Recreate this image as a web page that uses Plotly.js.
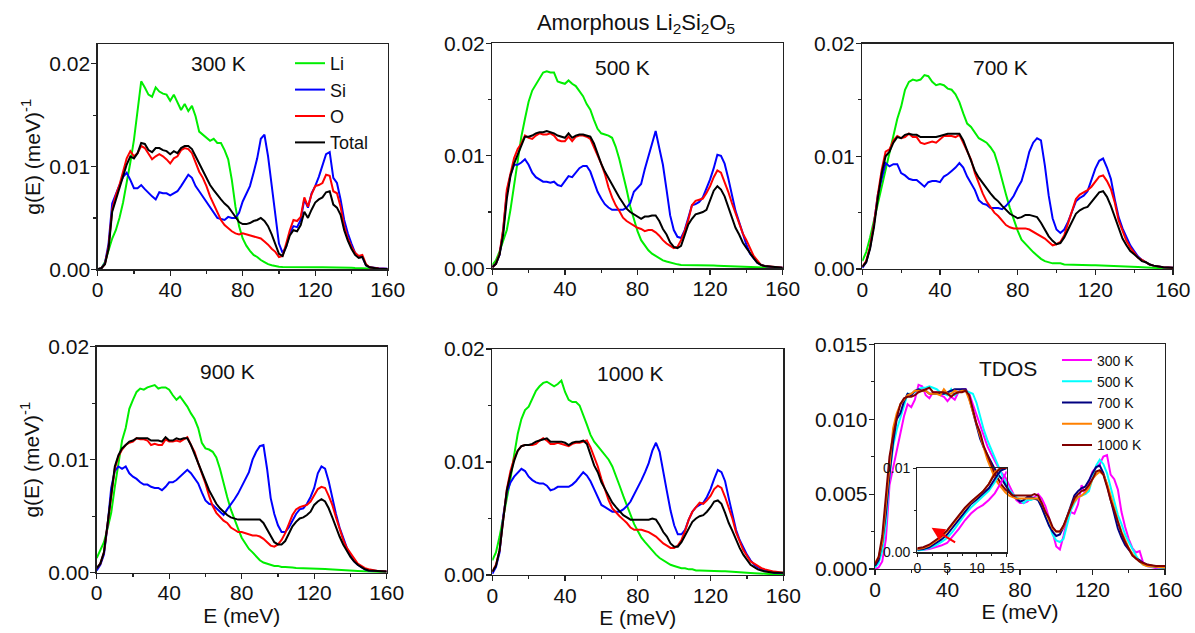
<!DOCTYPE html>
<html><head><meta charset="utf-8">
<script src="https://cdn.plot.ly/plotly-3.0.1.min.js"></script>
<style>html,body{margin:0;padding:0;background:#fff}#chart{width:1195px;height:633px}</style>
</head><body><div id="chart"></div>
<script>
// Energy grid (meV)
const E = [0,2,4,6,8,10,12,14,16,18,20,22,24,26,28,30,32,34,36,38,40,42,44,46,48,50,52,54,56,58,60,62,64,66,68,70,72,74,76,78,80,82,84,86,88,90,92,94,96,98,100,102,104,106,108,110,112,114,116,118,120,122,124,126,128,130,132,134,136,138,140,142,144,146,148,150,155,160];

// 300 K
const li300 = [0,0.0001,0.0007,0.0019,0.003,0.0038,0.005,0.0065,0.0083,0.0104, 0.0126,0.0153,0.0183,0.0177,0.017,0.0168,0.0177,0.0173,0.0171,0.017, 0.0164,0.017,0.0162,0.0155,0.0161,0.0154,0.0159,0.0149,0.0134,0.0131, 0.0128,0.0125,0.0127,0.0123,0.0123,0.0116,0.0107,0.0087,0.0061,0.0042, 0.003,0.0023,0.0018,0.0014,0.0012,0.0009,0.0007,0.0005,0.0004,0.0003, 0.00025,0.00023,0.00022,0.00021,0.0002,0.0002,0.0002,0.0002,0.0002,0.0002, 0.0002,0.0002,0.0002,0.0002,0.00019,0.00018,0.00018,0.00017,0.00016,0.00015, 0.00014,0.00012,0.0001,0.00008,0.00006,0.00004, 0.00002,0.00001];
const si300 = [0,0.0001,0.0006,0.0025,0.0064,0.0074,0.0082,0.009,0.0094,0.0087, 0.0079,0.0079,0.0082,0.0078,0.0074,0.0071,0.0068,0.0075,0.0074,0.0074, 0.0072,0.0074,0.0076,0.0081,0.0087,0.0092,0.0089,0.0081,0.0076,0.0071, 0.0066,0.006,0.0055,0.005,0.0049,0.0048,0.0051,0.005,0.005,0.0055, 0.0066,0.0074,0.0081,0.0094,0.0108,0.0127,0.0131,0.011,0.0081,0.0051, 0.0025,0.0016,0.0022,0.0035,0.0042,0.0041,0.0048,0.0068,0.006,0.0074, 0.0081,0.009,0.01,0.0112,0.0114,0.0089,0.0084,0.0068,0.0048,0.0035, 0.0025,0.0016,0.0012,0.0012,0.0004,0.0002, 0.0001,0.00005];
const o300 = [0,0.0001,0.0005,0.0022,0.0058,0.0072,0.0082,0.0095,0.0108,0.0115, 0.011,0.0113,0.012,0.0118,0.0112,0.0107,0.011,0.0112,0.011,0.0107, 0.0103,0.0108,0.011,0.0116,0.0118,0.0117,0.0113,0.0103,0.0095,0.0089, 0.0081,0.0071,0.0063,0.0055,0.0048,0.0043,0.004,0.0037,0.0035,0.0034, 0.0035,0.0034,0.0033,0.0032,0.0031,0.003,0.0027,0.0024,0.002,0.0017, 0.0012,0.0013,0.0025,0.0038,0.0048,0.0047,0.0051,0.007,0.0061,0.0073, 0.0081,0.0082,0.0084,0.0092,0.0091,0.0076,0.0074,0.0061,0.0042,0.003, 0.0022,0.0016,0.0013,0.0014,0.0005,0.0002, 0.00008,0.00003];
const tot300 = [0,0.0001,0.0005,0.002,0.0056,0.0068,0.0078,0.009,0.0102,0.011, 0.0108,0.0113,0.0123,0.0122,0.0116,0.0114,0.0118,0.0118,0.0116,0.0115, 0.0112,0.0115,0.0113,0.0118,0.012,0.012,0.0117,0.011,0.0103,0.0096, 0.0088,0.0082,0.0077,0.0072,0.0068,0.0064,0.0061,0.0056,0.0051,0.0046, 0.0044,0.0044,0.0045,0.0047,0.0048,0.005,0.0047,0.0042,0.0034,0.0025, 0.0015,0.0013,0.0022,0.0033,0.0038,0.0037,0.0043,0.0056,0.005,0.0058, 0.0065,0.0068,0.007,0.0075,0.0076,0.0063,0.006,0.0053,0.0038,0.0028, 0.002,0.0014,0.0011,0.0012,0.0004,0.0002, 0.00006,0.00003];

// 500 K
const li500 = [0.0003,0.0007,0.0015,0.0024,0.0034,0.0052,0.0075,0.0097,0.0117,0.0133, 0.0148,0.0158,0.0163,0.0169,0.0174,0.0175,0.0174,0.0174,0.0166,0.0165, 0.0164,0.0167,0.0164,0.0162,0.0158,0.0153,0.0146,0.0141,0.0132,0.0124, 0.012,0.0119,0.0118,0.0116,0.0108,0.0097,0.0084,0.007,0.0055,0.0043, 0.0033,0.0025,0.002,0.0016,0.0013,0.0011,0.0009,0.0007,0.0006,0.0005, 0.0004,0.00035,0.0003,0.0003,0.0003,0.00028,0.00027,0.00026,0.00026,0.00025, 0.00025,0.00024,0.00023,0.00022,0.00021,0.0002,0.00019,0.00018,0.00016,0.00014, 0.00012,0.0001,0.00009,0.00008,0.00006,0.00005, 0.00002,0.00001];
const si500 = [0.0001,0.0004,0.0012,0.0034,0.0067,0.0083,0.0092,0.0092,0.0094,0.0097, 0.0092,0.0085,0.0081,0.0079,0.0077,0.0077,0.0076,0.0077,0.0074,0.0073, 0.0078,0.0082,0.0081,0.0085,0.0089,0.0091,0.0091,0.0086,0.0077,0.0068, 0.0062,0.0057,0.0054,0.0052,0.0052,0.0052,0.0052,0.0054,0.0058,0.0068, 0.0072,0.0075,0.0088,0.01,0.0112,0.0122,0.0107,0.0092,0.007,0.0047, 0.0034,0.0028,0.0027,0.0034,0.0045,0.0056,0.0057,0.0059,0.0063,0.0071, 0.0079,0.0089,0.0101,0.01,0.0093,0.008,0.0065,0.0051,0.0041,0.003, 0.0021,0.0013,0.0009,0.0005,0.0003,0.0002, 0.0001,0.00005];
const o500 = [0.0001,0.0004,0.0013,0.0035,0.007,0.0085,0.0098,0.0106,0.0111,0.0118, 0.0116,0.0115,0.0118,0.012,0.0119,0.0119,0.012,0.0118,0.0114,0.0113, 0.0113,0.0117,0.0113,0.0117,0.0118,0.0118,0.0117,0.0115,0.0108,0.01, 0.0093,0.0084,0.0072,0.0063,0.0056,0.0051,0.0045,0.0042,0.004,0.0038, 0.0036,0.0035,0.0033,0.0034,0.0034,0.0032,0.0029,0.0025,0.0022,0.002, 0.0018,0.0019,0.0025,0.0033,0.0043,0.0056,0.006,0.0061,0.0062,0.0067, 0.0073,0.0081,0.0087,0.0085,0.0077,0.0068,0.0058,0.0049,0.004,0.0031, 0.0025,0.0018,0.0011,0.0007,0.0003,0.0002, 0.0001,0.00005];
const tot500 = [0.0001,0.0004,0.0012,0.003,0.0062,0.0082,0.0093,0.0101,0.0108,0.0117, 0.0117,0.0118,0.012,0.0121,0.0121,0.0122,0.0121,0.012,0.0118,0.0117, 0.0116,0.012,0.0116,0.0118,0.0119,0.0119,0.0118,0.0117,0.0111,0.0101, 0.0093,0.0086,0.008,0.0074,0.0068,0.0063,0.0058,0.0053,0.005,0.0048, 0.0046,0.0044,0.0046,0.0046,0.0047,0.0047,0.0042,0.0035,0.003,0.0023, 0.0019,0.0018,0.002,0.0029,0.0039,0.0044,0.0048,0.0049,0.005,0.0052, 0.006,0.0069,0.0073,0.007,0.0064,0.0054,0.0044,0.0036,0.003,0.0023, 0.0018,0.0013,0.0009,0.0005,0.0003,0.0002, 0.0001,0.00005];

// 700 K
const li700 = [0.0007,0.0015,0.0028,0.0043,0.0057,0.0072,0.0087,0.0104,0.0119,0.0133, 0.0144,0.0159,0.0166,0.0168,0.0167,0.0168,0.0172,0.0171,0.0166,0.0163, 0.0164,0.0163,0.016,0.0159,0.0155,0.0148,0.0138,0.0129,0.0126,0.0121, 0.0116,0.0114,0.0112,0.0108,0.0103,0.0092,0.0078,0.0066,0.0054,0.0043, 0.0034,0.0026,0.0022,0.0018,0.0015,0.0012,0.0009,0.0007,0.0006,0.0005, 0.0005,0.0005,0.0004,0.0004,0.0004,0.0004,0.00038,0.00036,0.00035,0.00034, 0.00033,0.00032,0.00031,0.0003,0.0003,0.0003,0.00028,0.00026,0.00024,0.00022, 0.0002,0.00018,0.00016,0.00014,0.00012,0.0001, 0.00005,0.00002];
const si700 = [0.0001,0.0006,0.0019,0.004,0.0066,0.0079,0.0094,0.0091,0.0093,0.0093, 0.0085,0.0083,0.008,0.0079,0.0079,0.0076,0.0073,0.0077,0.0078,0.0078, 0.0077,0.0082,0.0084,0.0087,0.009,0.0094,0.009,0.0082,0.0076,0.007, 0.0061,0.0058,0.0057,0.0054,0.0054,0.0054,0.0053,0.0056,0.006,0.0065, 0.0072,0.0078,0.009,0.0104,0.0112,0.0116,0.0114,0.0092,0.0065,0.0045, 0.0035,0.0032,0.0035,0.0042,0.0051,0.006,0.0063,0.0065,0.0069,0.0079, 0.0089,0.0096,0.0098,0.009,0.008,0.0062,0.0046,0.0036,0.0029,0.0021, 0.0016,0.0011,0.0008,0.0006,0.0004,0.0003, 0.00015,0.0001];
const o700 = [0.0002,0.0007,0.002,0.004,0.0066,0.0088,0.0104,0.0106,0.0114,0.0118, 0.0116,0.0117,0.012,0.0117,0.0117,0.0112,0.0111,0.0112,0.0113,0.0112, 0.0115,0.0118,0.0118,0.0118,0.0117,0.0119,0.0112,0.0104,0.0097,0.0085, 0.0075,0.0067,0.006,0.0055,0.005,0.0047,0.0043,0.0039,0.0037,0.0036, 0.0036,0.0036,0.0036,0.0035,0.0033,0.0031,0.0029,0.0027,0.0024,0.0021, 0.0022,0.0024,0.003,0.0041,0.0051,0.0062,0.0066,0.0068,0.007,0.0073, 0.0078,0.0082,0.0083,0.0078,0.0071,0.0059,0.0043,0.0033,0.0025,0.0019, 0.0014,0.001,0.0008,0.0006,0.0004,0.0003, 0.00015,0.0001];
const tot700 = [0.0002,0.0006,0.0018,0.0037,0.0063,0.0085,0.01,0.0104,0.0112,0.0117, 0.0116,0.0119,0.012,0.0119,0.0119,0.0117,0.0117,0.0117,0.0117,0.0117, 0.0118,0.0119,0.012,0.012,0.012,0.012,0.0114,0.0105,0.0095,0.0087, 0.0081,0.0076,0.0071,0.0067,0.0063,0.006,0.0056,0.0052,0.0049,0.0047, 0.0045,0.0046,0.0048,0.0048,0.0047,0.0046,0.0041,0.0035,0.0029,0.0025, 0.0022,0.0023,0.0028,0.0035,0.0042,0.0049,0.0052,0.0054,0.0055,0.0059, 0.0064,0.0068,0.0069,0.0064,0.0056,0.0046,0.0035,0.0027,0.0021,0.0016, 0.0013,0.001,0.0007,0.0006,0.0004,0.0003, 0.00015,0.0001];

// 900 K
const li900 = [0.0013,0.002,0.0027,0.0039,0.0053,0.0076,0.0098,0.0117,0.0128,0.0145, 0.0153,0.016,0.0163,0.0162,0.0164,0.0165,0.0166,0.0163,0.0164,0.0164, 0.0162,0.0157,0.0153,0.0156,0.0152,0.0147,0.0141,0.0136,0.0128,0.0115, 0.011,0.0109,0.0107,0.0102,0.0092,0.0079,0.0067,0.0056,0.0047,0.0039, 0.0031,0.0026,0.0021,0.0018,0.0014,0.0011,0.0009,0.0008,0.0007,0.0006, 0.0006,0.0005,0.0005,0.0005,0.00045,0.00042,0.0004,0.0004,0.00038,0.00036, 0.00035,0.00034,0.00033,0.00032,0.00031,0.0003,0.00028,0.00026,0.00024,0.00022, 0.0002,0.00018,0.00016,0.00014,0.00012,0.0001, 0.00005,0.00002];
const si900 = [0.0002,0.0007,0.0016,0.0042,0.0075,0.009,0.0094,0.0092,0.0094,0.0088, 0.0085,0.0083,0.008,0.0078,0.0078,0.0076,0.0075,0.0075,0.0073,0.0076, 0.008,0.008,0.0082,0.0085,0.0088,0.0091,0.0088,0.0083,0.0079,0.0071, 0.0064,0.0061,0.006,0.0057,0.0054,0.0051,0.0056,0.006,0.0065,0.007, 0.0076,0.0082,0.0089,0.01,0.0107,0.0112,0.0113,0.0092,0.0066,0.0052, 0.0042,0.0036,0.0036,0.004,0.0046,0.0052,0.0056,0.0057,0.0061,0.0067, 0.0075,0.0088,0.0094,0.0092,0.0081,0.0066,0.0052,0.004,0.003,0.0022, 0.0015,0.001,0.0007,0.0005,0.0003,0.0002, 0.00015,0.0001];
const o900 = [0.0004,0.0008,0.0018,0.0042,0.0068,0.0092,0.0103,0.0109,0.0113,0.0115, 0.0116,0.0119,0.0118,0.0118,0.0117,0.0113,0.0114,0.0113,0.0113,0.0118, 0.0116,0.0116,0.0117,0.0116,0.0118,0.012,0.0113,0.0107,0.0097,0.0088, 0.0079,0.0068,0.0059,0.0053,0.0049,0.0046,0.0044,0.004,0.0038,0.0036, 0.0036,0.0035,0.0034,0.0033,0.0033,0.0032,0.003,0.0027,0.0024,0.0023, 0.0025,0.0029,0.0035,0.0043,0.0051,0.0056,0.0058,0.0059,0.006,0.0063, 0.0068,0.0074,0.0076,0.0075,0.0068,0.006,0.0049,0.0038,0.0029,0.0022, 0.0017,0.0012,0.0008,0.0006,0.0004,0.0003, 0.00015,0.0001];
const tot900 = [0.0004,0.0008,0.0018,0.0042,0.007,0.0094,0.0104,0.011,0.0113,0.0116, 0.0117,0.0119,0.0119,0.0119,0.0119,0.0117,0.0117,0.0117,0.0116,0.012, 0.0117,0.0117,0.0119,0.0118,0.0119,0.0119,0.0113,0.0105,0.0096,0.0088, 0.008,0.0073,0.0067,0.0061,0.0057,0.0054,0.0051,0.0049,0.0048,0.0047, 0.0047,0.0047,0.0047,0.0047,0.0047,0.0047,0.0044,0.0038,0.0032,0.0027, 0.0025,0.0025,0.0028,0.0034,0.0041,0.0045,0.0048,0.0049,0.0051,0.0054, 0.006,0.0063,0.0065,0.0063,0.0057,0.0049,0.004,0.0032,0.0025,0.0019, 0.0014,0.001,0.0007,0.0005,0.0003,0.0002, 0.00015,0.0001];

// 1000 K
const li1000 = [0.0013,0.002,0.0034,0.005,0.0067,0.0085,0.0106,0.0125,0.0138,0.0146, 0.0149,0.0156,0.0163,0.0167,0.017,0.0171,0.0169,0.0167,0.0169,0.0172, 0.0162,0.0155,0.0153,0.0153,0.015,0.0142,0.0133,0.0124,0.0118,0.0114, 0.011,0.0106,0.0102,0.0096,0.0088,0.0079,0.007,0.0062,0.0054,0.0045, 0.0039,0.0033,0.0029,0.0025,0.0021,0.0018,0.0015,0.0013,0.0011,0.0009, 0.0008,0.0007,0.0006,0.0006,0.0005,0.0005,0.0004,0.0004,0.0004,0.0004, 0.00038,0.00036,0.00035,0.00034,0.00033,0.0003,0.00028,0.00026,0.00024,0.00022, 0.0002,0.00018,0.00016,0.00014,0.00012,0.0001, 0.00005,0.00002];
const si1000 = [0.0001,0.0007,0.002,0.0052,0.0073,0.0082,0.0087,0.0091,0.0094,0.0092, 0.0087,0.0084,0.0082,0.0081,0.0081,0.0079,0.0075,0.0076,0.0078,0.0078, 0.0078,0.0078,0.008,0.0083,0.0087,0.0091,0.0088,0.0083,0.0076,0.0069, 0.0062,0.006,0.0058,0.0056,0.0056,0.0056,0.0058,0.0061,0.0065,0.0071, 0.0077,0.0084,0.0091,0.0099,0.011,0.0117,0.0109,0.0093,0.0074,0.0057, 0.0044,0.0036,0.0036,0.004,0.0049,0.0056,0.006,0.0062,0.0064,0.0069, 0.0076,0.0085,0.0093,0.0091,0.0083,0.0068,0.0053,0.004,0.0031,0.0024, 0.0018,0.0013,0.0009,0.0007,0.0005,0.0004, 0.0002,0.00015];
const o1000 = [0.0003,0.0009,0.0022,0.0048,0.0076,0.0092,0.0103,0.011,0.0114,0.0115, 0.0115,0.0115,0.0116,0.0119,0.0121,0.0119,0.0116,0.0116,0.0117,0.0116, 0.0115,0.0114,0.0116,0.0117,0.0117,0.0118,0.0119,0.0113,0.0105,0.0096, 0.0085,0.0075,0.0066,0.0059,0.0055,0.0052,0.0049,0.0046,0.0042,0.004, 0.004,0.004,0.0039,0.0038,0.0036,0.0034,0.0031,0.0028,0.0026,0.0024, 0.0024,0.0026,0.0031,0.0039,0.0049,0.0056,0.006,0.0064,0.0063,0.0066, 0.007,0.0076,0.0079,0.0077,0.0069,0.006,0.005,0.0038,0.003,0.0022, 0.0017,0.0012,0.001,0.0008,0.0006,0.0005, 0.0003,0.0002];
const tot1000 = [0.0003,0.0008,0.0022,0.0048,0.0075,0.0089,0.0101,0.011,0.0114,0.0115, 0.0115,0.0116,0.0118,0.0119,0.012,0.0121,0.0118,0.0118,0.0118,0.0118, 0.0117,0.0115,0.0117,0.0118,0.0118,0.0119,0.0116,0.0107,0.0097,0.0091, 0.0082,0.0076,0.007,0.0064,0.006,0.0056,0.0053,0.0051,0.0049,0.0049, 0.0049,0.0049,0.0049,0.0049,0.005,0.0049,0.0044,0.0038,0.0034,0.0028, 0.0025,0.0025,0.0029,0.0035,0.0041,0.0047,0.005,0.0052,0.0053,0.0056, 0.006,0.0065,0.0066,0.0063,0.0055,0.0046,0.0039,0.0031,0.0024,0.0018, 0.0013,0.0009,0.0007,0.0005,0.0004,0.0003, 0.0002,0.0002];

// Inset (low-energy region)
const Ein = [0,1,2,3,4,5,6,7,8,9,10,11,12,13,14,15];
const in300 = [0.0003,0.0003,0.0004,0.0006,0.0008,0.0011,0.0019,0.0028,0.0038,0.0046,0.0052,0.0056,0.0062,0.007,0.0082,0.0096];
const in500 = [0.0002,0.0003,0.0005,0.0008,0.0012,0.0017,0.0025,0.0035,0.0045,0.0053,0.006,0.0066,0.0073,0.0083,0.0098,0.01];
const in700 = [0.0003,0.0004,0.0006,0.001,0.0015,0.0021,0.003,0.004,0.0049,0.0057,0.0063,0.0069,0.0076,0.0087,0.0097,0.01];
const in900 = [0.0004,0.0005,0.0008,0.0013,0.0018,0.0025,0.0034,0.0043,0.0052,0.0059,0.0065,0.0072,0.0081,0.0095,0.01,0.01];
const in1000 = [0.00047,0.0006,0.0009,0.0014,0.0019,0.0026,0.0035,0.0044,0.0053,0.006,0.0066,0.0072,0.0081,0.0093,0.01,0.01];

const elements = ['Li','Si','O','Total'];
const elemColors = ['#00ee00','#0000ff','#ff0000','#000000'];
const temps = ['300 K','500 K','700 K','900 K','1000 K'];
const tempColors = ['#ff00ff','#00ffff','#000080','#ff8000','#800000'];
const xTicks = [0,40,80,120,160];

const W = 1195, H = 633;
const FONT = 'Liberation Sans, Arial, Helvetica, sans-serif';
const xd = (a,b) => [a/W, b/W];
const yd = (t,b) => [1-b/H, 1-t/H];

const panelData = [
  [li300,si300,o300,tot300],
  [li500,si500,o500,tot500],
  [li700,si700,o700,tot700],
  [li900,si900,o900,tot900],
  [li1000,si1000,o1000,tot1000]
];
const tdos = [tot300,tot500,tot700,tot900,tot1000];
const insets = [in300,in500,in700,in900,in1000];

const boxes = [
  {x:[97.7,387.7], y:[44.3,269.3], yr:[0,0.0219]},
  {x:[492.3,782.7], y:[43.3,268.3], yr:[0,0.02]},
  {x:[862.3,1173], y:[43.5,269], yr:[0,0.02]},
  {x:[96.7,386.7], y:[346.7,572.7], yr:[0,0.02]},
  {x:[492.3,783.3], y:[349,575], yr:[0,0.02]},
  {x:[875,1165], y:[344.3,569], yr:[0,0.015]}
];

const traces = [];
panelData.forEach((set, p) => {
  const ax = p === 0 ? '' : String(p+1);
  set.forEach((arr, k) => {
    traces.push({
      x: E, y: arr, type:'scatter', mode:'lines',
      xaxis:'x'+ax, yaxis:'y'+ax,
      name: elements[k], showlegend: p === 0, legend:'legend',
      line:{color: elemColors[k], width:2},
      hoverinfo:'skip'
    });
  });
});
tdos.forEach((arr, k) => {
  traces.push({
    x: E, y: arr, type:'scatter', mode:'lines', xaxis:'x6', yaxis:'y6',
    name: temps[k], showlegend:true, legend:'legend2',
    line:{color: tempColors[k], width:2}, hoverinfo:'skip'
  });
});
insets.forEach((arr, k) => {
  traces.push({
    x: Ein, y: arr, type:'scatter', mode:'lines', xaxis:'x7', yaxis:'y7',
    showlegend:false, line:{color: tempColors[k], width:2}, hoverinfo:'skip'
  });
});

const lineCol = '#222';
function xaxis(box, anchor, withTitle) {
  const a = {
    domain: xd(box.x[0], box.x[1]), anchor: anchor, range:[0,160],
    tickmode:'array', tickvals: xTicks, ticks:'outside', ticklen:5, tickwidth:1.2, tickcolor:lineCol,
    ticklabelstandoff:-4,
    minor:{tickmode:'array', tickvals:[20,60,100,140], ticks:'outside', ticklen:3, tickwidth:1.2, tickcolor:lineCol},
    showline:true, linecolor:lineCol, linewidth:1.3, mirror:true,
    showgrid:false, zeroline:false, fixedrange:true,
    tickfont:{family:FONT, size:21, color:'#111'}
  };
  if (withTitle) a.title = {text:'E (meV)', font:{family:FONT, size:21, color:'#111'}, standoff:2};
  return a;
}
function yaxis(box, anchor, withTitle, tdosAxis) {
  const a = {
    domain: yd(box.y[0], box.y[1]), anchor: anchor, range: box.yr,
    tickmode:'array',
    tickvals: tdosAxis ? [0,0.005,0.01,0.015] : [0,0.01,0.02],
    tickformat: tdosAxis ? '.3f' : '.2f',
    ticks:'outside', ticklen:5, tickwidth:1.2, tickcolor:lineCol,
    ticklabelstandoff:-3,
    minor:{tickmode:'array', tickvals: tdosAxis ? [0.0025,0.0075,0.0125] : [0.005,0.015], ticks:'outside', ticklen:3, tickwidth:1.2, tickcolor:lineCol},
    showline:true, linecolor:lineCol, linewidth:1.3, mirror:true,
    showgrid:false, zeroline:false, fixedrange:true,
    tickfont:{family:FONT, size:21, color:'#111'}
  };
  if (withTitle) a.title = {text:'g(E) (meV)<sup>-1</sup>', font:{family:FONT, size:21, color:'#111'}, standoff:3};
  return a;
}

const layout = {
  width: W, height: H,
  margin:{l:0,r:0,t:0,b:0},
  paper_bgcolor:'#ffffff', plot_bgcolor:'rgba(0,0,0,0)',
  font:{family:FONT, color:'#111'},
  title:{text:'Amorphous Li<sub>2</sub>Si<sub>2</sub>O<sub>5</sub>', font:{family:FONT, size:22, color:'#111'},
         x:636/W, xanchor:'center', y:1-22/H, yanchor:'middle'},
  xaxis: xaxis(boxes[0],'y',false),  yaxis: yaxis(boxes[0],'x',true,false),
  xaxis2: xaxis(boxes[1],'y2',false), yaxis2: yaxis(boxes[1],'x2',false,false),
  xaxis3: xaxis(boxes[2],'y3',false), yaxis3: yaxis(boxes[2],'x3',false,false),
  xaxis4: xaxis(boxes[3],'y4',true),  yaxis4: yaxis(boxes[3],'x4',true,false),
  xaxis5: xaxis(boxes[4],'y5',true),  yaxis5: yaxis(boxes[4],'x5',false,false),
  xaxis6: xaxis(boxes[5],'y6',true),  yaxis6: yaxis(boxes[5],'x6',false,true),
  xaxis7: {
    domain: xd(917.3,1006.7), anchor:'y7', range:[0,15], tickmode:'array', tickvals:[0,5,10,15],
    ticks:'outside', ticklen:3, tickcolor:lineCol,
    minor:{tickmode:'array', tickvals:[2.5,7.5,12.5], ticks:'outside', ticklen:2, tickcolor:lineCol},
    showline:true, linecolor:lineCol, linewidth:1.2, mirror:true, showgrid:false, zeroline:false, fixedrange:true,
    tickfont:{family:FONT, size:14, color:'#111'}
  },
  yaxis7: {
    domain: yd(468,552.3), anchor:'x7', range:[0,0.01], tickmode:'array', tickvals:[0,0.01], tickformat:'.2f',
    ticks:'outside', ticklen:3, tickcolor:lineCol,
    minor:{tickmode:'array', tickvals:[0.005], ticks:'outside', ticklen:2, tickcolor:lineCol},
    showline:true, linecolor:lineCol, linewidth:1.2, mirror:true, showgrid:false, zeroline:false, fixedrange:true,
    tickfont:{family:FONT, size:14, color:'#111'}
  },
  legend:{x:290/W, xanchor:'left', y:1-45/H, yanchor:'top', bgcolor:'rgba(0,0,0,0)', borderwidth:0,
          font:{family:FONT, size:18, color:'#111'}, tracegroupgap:0},
  legend2:{x:1057/W, xanchor:'left', y:1-344.5/H, yanchor:'top', bgcolor:'rgba(0,0,0,0)', borderwidth:0,
          font:{family:FONT, size:14, color:'#111'}, tracegroupgap:0},
  annotations:[
    {text:'300 K', x:218/W, y:1-63/H},
    {text:'500 K', x:622.5/W, y:1-68/H},
    {text:'700 K', x:1000/W, y:1-68/H},
    {text:'900 K', x:227.5/W, y:1-371.7/H},
    {text:'1000 K', x:630/W, y:1-373.3/H},
    {text:'TDOS', x:1007.5/W, y:1-368.3/H}
  ].map(a => Object.assign(a, {xref:'paper', yref:'paper', showarrow:false, xanchor:'center', yanchor:'middle',
        font:{family:FONT, size:21, color:'#111'}})).concat([
    {xref:'x7', yref:'y7', axref:'x7', ayref:'y7', x:2.4, y:0.0029, ax:6.6, ay:0.00107,
     text:'', showarrow:true, arrowcolor:'#ff0000', arrowwidth:2, arrowhead:2, arrowsize:1.3}
  ])
};

Plotly.newPlot('chart', traces, layout, {displayModeBar:false, staticPlot:true}).then(gd => {
  // drop empty placeholder text nodes (untitled axes, arrow-only annotation)
  gd.querySelectorAll('text').forEach(t => { if (!t.textContent.trim()) t.remove(); });
});
</script>
</body></html>
